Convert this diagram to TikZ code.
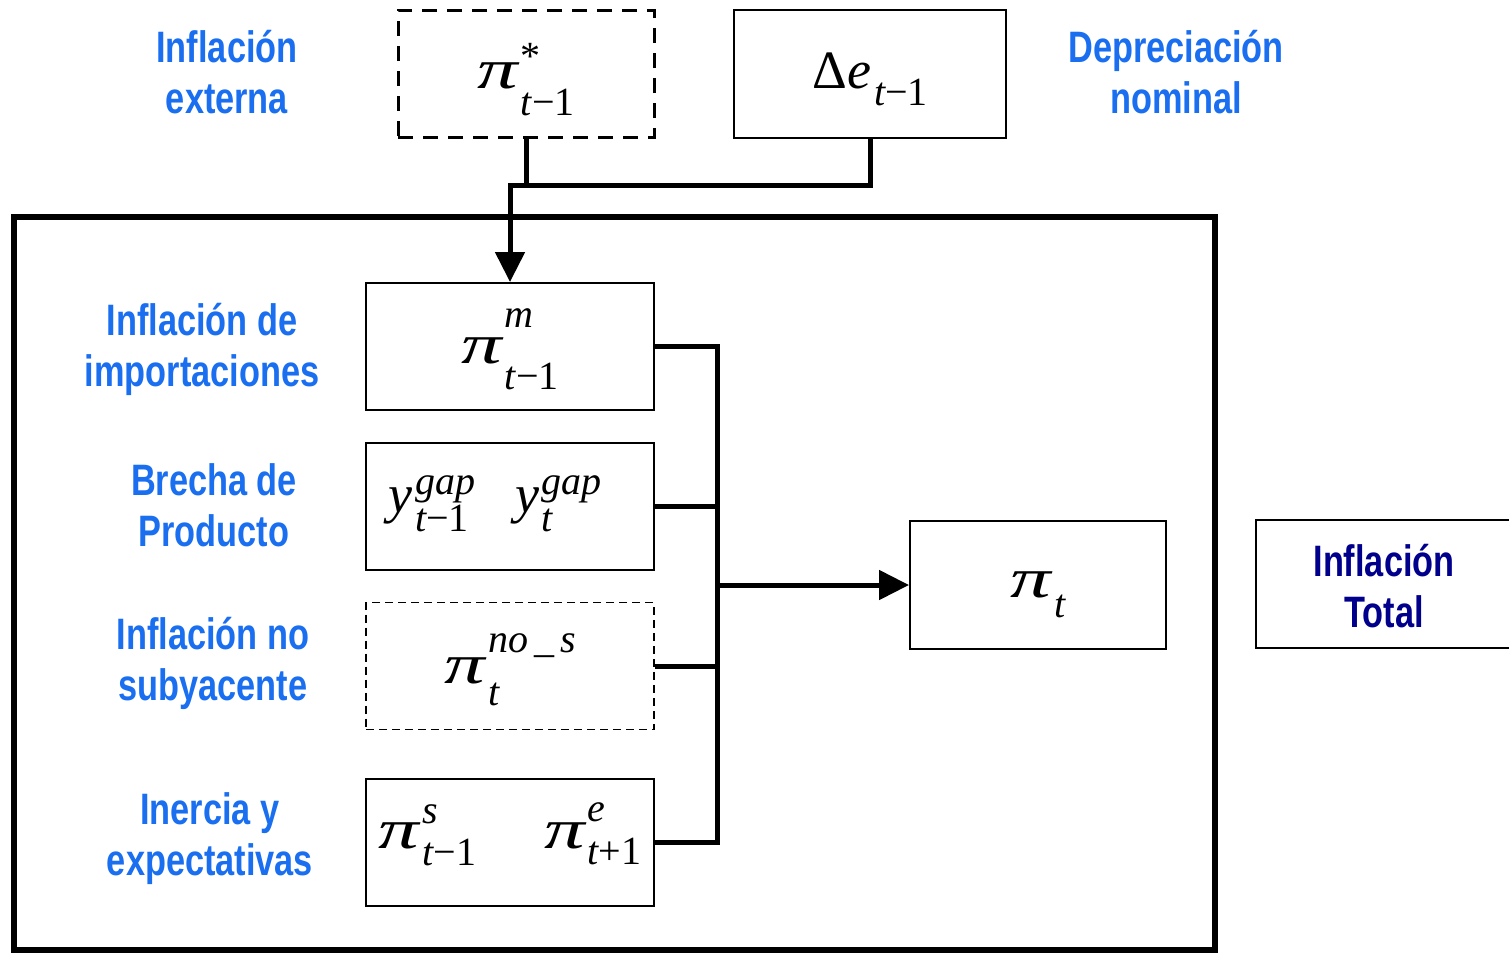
\documentclass[tikz,border=0pt]{standalone}
\usepackage{graphicx}
\usepackage{fontspec}
\newfontfamily\lbl[FakeStretch=0.78]{Liberation Sans}
\newfontfamily\tms{Liberation Serif}
\usetikzlibrary{arrows.meta}
\definecolor{lblue}{RGB}{26,110,240}
\definecolor{navy}{RGB}{0,0,140}
\newcommand\mt{\fontsize{54}{60}\selectfont\tms}
\newcommand\scr{\fontsize{40}{44}\selectfont\tms}
\newcommand\PI{\scalebox{1.5}[1.04]{\itshape π}}
\newlength\ssw
% base, sup, sub, sup raise, sub drop
\newcommand\ssc[5]{{#1}\kern3pt\sbox0{\scr #2}\sbox2{\scr #3}%
  \setlength\ssw{\wd0}\ifdim\wd2>\ssw\setlength\ssw{\wd2}\fi
  \rlap{\raisebox{#4}{\usebox0}}\rlap{\raisebox{-#5}{\usebox2}}\hspace*{\ssw}}
\newcommand\tmo{{\itshape t}−1}
\tikzset{
  lab/.style={font=\lbl\bfseries\fontsize{44}{51}\selectfont, text=lblue, align=center},
  labt/.style={lab, text=navy},
  mbox/.style={draw, line width=2pt, minimum width=288pt, minimum height=127pt, inner sep=0pt, text depth=15pt, font=\mt},
  conn/.style={line width=5pt},
  tip/.style={-{Triangle[width=29pt,length=30pt]}},
}
\begin{document}
\begin{tikzpicture}[x=1pt,y=-1pt]
\useasboundingbox (0,0) rectangle (1509,953);
% frame
\draw[line width=6pt] (14,217) rectangle (1215,950);
% top boxes
\node[mbox, dashed, dash pattern=on 15pt off 10pt, line width=3pt, minimum width=256pt, text height=44pt] (pis) at (526,73.5) {\ssc{\PI}{*}{\tmo}{19pt}{27pt}};
\node[mbox, minimum width=272pt, minimum height=128pt, text height=44pt] (de) at (870,74) {\ssc{Δ{\itshape e}}{}{\tmo}{0pt}{17pt}};
% inner boxes
\node[mbox, text height=48pt] (pim) at (510,346.5) {\ssc{\PI}{\itshape m}{\tmo}{36pt}{26pt}};
\node[mbox, text height=27pt] (yg) at (510,506) {\ssc{\itshape y}{\itshape gap}{\tmo}{18pt}{19pt}\hspace{40pt}\ssc{\itshape y}{\itshape gap}{\itshape t}{18pt}{19pt}\hspace*{30pt}};
\node[mbox, line width=1.5pt, dash pattern=on 8pt off 5pt, text height=49pt] (nos) at (510,666) {\ssc{\PI}{\itshape no\hspace{6pt}\_\hspace{6pt}s}{\itshape t}{31pt}{22pt}};
\node[mbox, text height=27pt] (ine) at (510,842.5) {\ssc{\PI}{\itshape s}{\tmo}{25pt}{17pt}\hspace{68pt}\ssc{\PI}{\itshape e}{{\itshape t}+1}{27pt}{16pt}};
\node[mbox, minimum width=256pt, minimum height=128pt, text height=39pt] (pit) at (1038,585) {\ssc{\PI}{}{\itshape t}{0pt}{20pt}};
\node[mbox, minimum width=256pt, minimum height=128pt] (tot) at (1384,584) {};
% labels
\node[lab] (l1) at (227,72) {Inflación\\externa};
\node[lab] (l2) at (1176,72) {Depreciación\\nominal};
\node[lab] (l3) at (202,349) {Inflación de\\importaciones};
\node[lab] (l4) at (214,505) {Brecha de\\Producto};
\node[lab] (l5) at (213,663) {Inflación no\\subyacente};
\node[lab] (l6) at (210,839) {Inercia y\\expectativas};
\node[labt] (l7) at (1384,586) {Inflación\\Total};
% top connectors
\coordinate (j) at (510,185);
\draw[conn] (de.south) |- (pis.south |- j);
\draw[conn, tip] (pis.south) |- (j) -- (pim.north);
% bus
\coordinate (bt) at (717,842.5);
\draw[conn] (pim.east) -| (bt) -- (ine.east);
\draw[conn] (yg.east) -- (yg.east -| bt);
\draw[conn] (nos.east) -- (nos.east -| bt);
\draw[conn, tip] (pit.west -| bt) -- (pit.west);
\end{tikzpicture}
\end{document}
